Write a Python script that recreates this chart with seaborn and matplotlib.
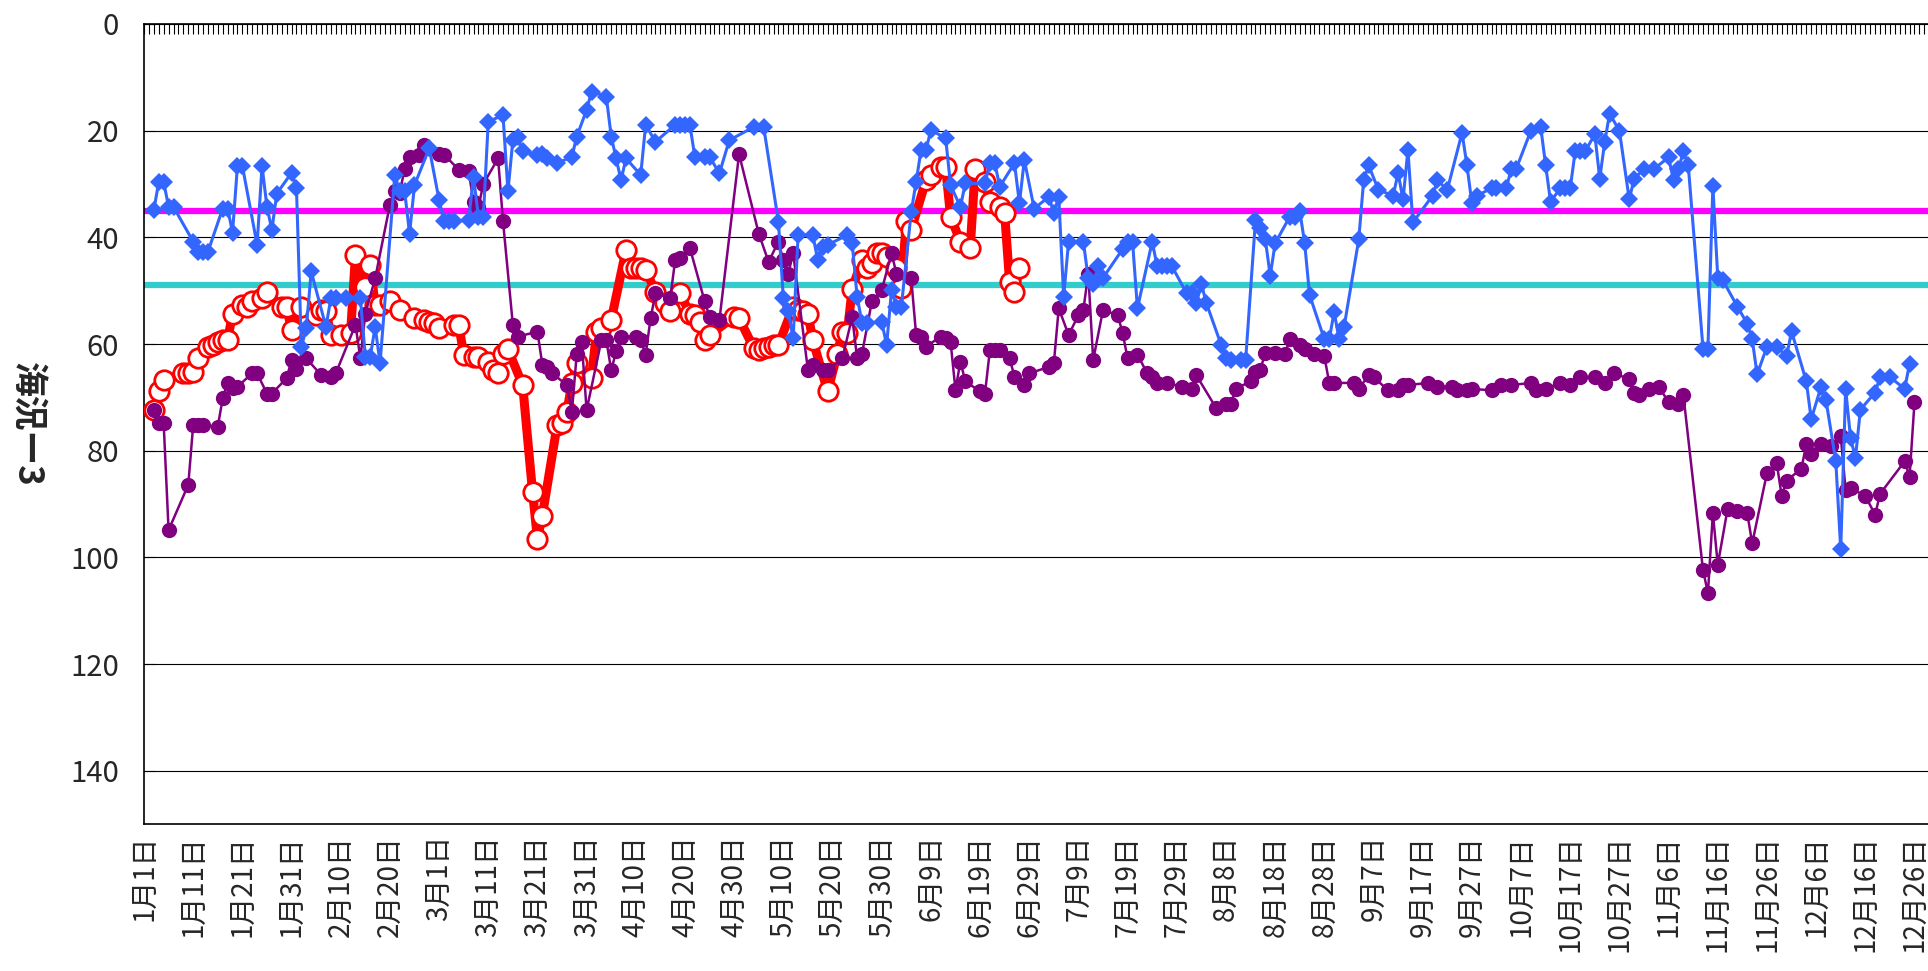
import pandas as pd
import matplotlib
matplotlib.use("Agg")
import matplotlib.pyplot as plt
import seaborn as sns

# ── Data (day of year, 0 = 1月1日, leap year) ───────────────
blue_day = [2, 3, 4, 5, 6, 10, 11, 12, 13, 16, 17, 18, 19, 20, 23, 24, 25, 26, 27, 30,
            31, 32, 33, 34, 37, 38, 39, 41, 44, 45, 46, 47, 48, 51, 52, 53, 54, 55, 58, 60,
            61, 62, 63, 66, 67, 68, 69, 70, 73, 74, 75, 76, 77, 80, 81, 82, 84, 87, 88, 90,
            91, 94, 95, 96, 97, 98, 101, 102, 104, 108, 109, 110, 111, 112, 114, 115, 117, 119, 124, 126,
            129, 130, 131, 132, 133, 136, 137, 138, 139, 143, 144, 145, 146, 147, 150, 151, 152, 153, 154, 156,
            157, 158, 159, 160, 163, 164, 166, 167, 171, 172, 173, 174, 177, 178, 179, 181, 184, 185, 186, 187,
            188, 191, 192, 193, 194, 195, 199, 200, 201, 202, 205, 206, 207, 208, 209, 212, 213, 214, 215, 216,
            219, 220, 221, 223, 224, 226, 227, 228, 229, 230, 233, 234, 235, 236, 237, 240, 241, 242, 243, 244,
            247, 248, 249, 251, 254, 255, 256, 257, 258, 262, 263, 265, 268, 269, 270, 271, 274, 275, 277, 278,
            279, 282, 284, 285, 286, 288, 289, 290, 291, 292, 293, 295, 296, 297, 298, 300, 302, 303, 305, 307,
            310, 311, 312, 313, 314, 317, 318, 319, 320, 321, 324, 326, 327, 328, 330, 332, 334, 335, 338, 339,
            341, 342, 344, 345, 346, 347, 348, 349, 352, 353, 355, 358, 359]
blue_val = [34.9, 29.6, 29.6, 34.3, 34.3, 40.8, 42.7, 42.7, 42.7, 34.6, 34.6, 39.1, 26.6, 26.6, 41.4, 26.6, 34.3, 38.6, 31.8, 27.9,
            30.7, 60.6, 57.0, 46.4, 56.8, 51.4, 51.4, 51.4, 51.4, 62.4, 62.4, 56.8, 63.6, 28.3, 31.4, 31.4, 39.3, 30.2, 23.3, 33.0,
            37.0, 37.0, 37.0, 36.8, 28.6, 36.1, 36.1, 18.3, 17.1, 31.4, 21.8, 21.1, 23.9, 24.6, 24.3, 25.2, 26.1, 24.9, 21.1, 16.1,
            12.7, 13.6, 21.1, 25.2, 29.3, 25.2, 28.3, 18.9, 22.1, 18.9, 18.9, 18.9, 18.9, 24.9, 24.9, 24.9, 28.0, 21.8, 19.3, 19.3,
            37.1, 51.4, 53.9, 58.9, 39.6, 39.6, 44.3, 41.8, 41.4, 39.6, 41.1, 51.1, 56.1, 56.1, 55.8, 60.2, 49.9, 53.0, 53.0, 35.2,
            29.6, 23.6, 23.6, 19.9, 21.4, 30.2, 34.3, 29.9, 29.9, 26.1, 26.1, 30.5, 26.1, 33.6, 25.5, 34.6, 32.4, 35.5, 32.4, 51.1,
            40.8, 40.8, 47.7, 48.7, 45.4, 47.6, 42.2, 40.8, 40.8, 53.3, 40.8, 45.4, 45.4, 45.4, 45.4, 50.5, 50.5, 52.3, 48.7, 52.3,
            60.1, 62.7, 63.0, 63.0, 63.0, 36.8, 38.3, 40.4, 47.2, 41.1, 36.1, 36.1, 35.0, 41.1, 50.8, 59.1, 59.1, 54.0, 59.1, 56.9,
            40.4, 29.3, 26.5, 31.1, 32.2, 27.9, 32.9, 23.6, 37.2, 32.2, 29.3, 31.1, 20.4, 26.5, 33.6, 32.2, 30.8, 30.8, 30.8, 27.2,
            27.2, 20.0, 19.3, 26.5, 33.3, 30.8, 30.8, 30.8, 23.9, 23.9, 23.9, 20.7, 29.0, 22.2, 16.8, 20.0, 32.9, 29.0, 27.2, 27.2,
            25.0, 29.3, 27.2, 23.9, 26.5, 60.9, 60.9, 30.4, 47.6, 48.0, 53.0, 56.2, 59.1, 65.7, 60.5, 60.5, 62.3, 57.6, 67.0, 74.1,
            68.0, 70.5, 82.0, 98.5, 68.4, 77.7, 81.3, 72.3, 69.1, 66.2, 66.2, 68.4, 63.7]

purple_day = [2, 3, 4, 5, 9, 10, 11, 12, 15, 16, 17, 18, 19, 22, 23, 25, 26, 29, 30, 31,
              33, 36, 38, 39, 43, 44, 45, 47, 50, 51, 52, 53, 54, 56, 57, 60, 61, 64, 66, 67,
              68, 69, 72, 73, 75, 76, 80, 81, 82, 83, 86, 87, 88, 89, 90, 93, 94, 95, 96, 97,
              100, 101, 102, 103, 104, 107, 108, 109, 111, 114, 115, 117, 121, 125, 127, 129, 130, 131, 132, 135,
              136, 138, 139, 142, 144, 145, 146, 148, 150, 152, 153, 156, 157, 158, 159, 162, 163, 164, 165, 166,
              167, 170, 171, 172, 173, 174, 176, 177, 179, 180, 184, 185, 186, 188, 190, 191, 192, 193, 195, 198,
              199, 200, 202, 204, 205, 206, 208, 211, 213, 214, 218, 220, 221, 222, 225, 226, 227, 228, 230, 232,
              233, 235, 236, 238, 240, 241, 242, 246, 247, 249, 250, 253, 255, 256, 257, 261, 263, 266, 267, 269,
              270, 274, 276, 278, 282, 283, 285, 288, 290, 292, 295, 297, 299, 302, 303, 304, 306, 308, 310, 312,
              313, 317, 318, 319, 320, 322, 324, 326, 327, 330, 332, 333, 334, 337, 338, 339, 341, 343, 345, 346,
              347, 350, 352, 353, 358, 359, 360]
purple_val = [72.4, 74.9, 74.9, 94.9, 86.4, 75.2, 75.2, 75.2, 75.5, 70.2, 67.3, 68.3, 68.0, 65.5, 65.5, 69.3, 69.3, 66.4, 63.0, 64.6,
              62.7, 65.8, 66.1, 65.5, 56.4, 62.7, 54.3, 47.7, 33.9, 31.4, 31.7, 27.1, 25.0, 24.6, 22.7, 24.3, 24.5, 27.3, 27.6, 33.3,
              34.3, 30.0, 25.2, 37.0, 56.4, 58.6, 57.7, 63.9, 64.3, 65.5, 67.7, 72.7, 61.8, 59.6, 72.4, 59.3, 59.3, 64.9, 61.4, 58.6,
              58.6, 59.3, 62.0, 55.2, 50.5, 51.4, 44.3, 43.9, 42.0, 52.0, 54.9, 55.5, 24.4, 39.3, 44.6, 40.8, 44.3, 46.8, 43.0, 64.9,
              63.9, 64.9, 64.9, 62.7, 54.9, 62.7, 61.8, 52.0, 49.9, 43.0, 46.8, 47.7, 58.3, 58.6, 60.5, 58.6, 58.9, 59.6, 68.6, 63.3,
              67.0, 68.9, 69.3, 61.1, 61.1, 61.1, 62.7, 66.1, 67.7, 65.5, 64.3, 63.6, 53.3, 58.3, 54.6, 53.6, 46.8, 63.0, 53.6, 54.6,
              58.0, 62.7, 62.0, 65.5, 66.2, 67.3, 67.3, 68.0, 68.4, 65.9, 72.0, 71.3, 71.3, 68.4, 67.0, 65.2, 64.8, 61.6, 61.6, 61.9,
              59.1, 60.1, 60.9, 61.9, 62.3, 67.3, 67.3, 67.3, 68.4, 65.9, 66.2, 68.7, 68.7, 67.7, 67.7, 67.3, 68.0, 68.0, 68.7, 68.7,
              68.4, 68.7, 67.7, 67.7, 67.3, 68.7, 68.4, 67.3, 67.7, 66.2, 66.2, 67.3, 65.5, 66.6, 69.1, 69.5, 68.4, 68.0, 70.9, 71.3,
              69.5, 102.4, 106.7, 91.7, 101.4, 90.9, 91.3, 91.7, 97.4, 84.2, 82.4, 88.5, 85.6, 83.4, 78.8, 80.6, 78.8, 79.1, 77.3, 87.4,
              87.0, 88.5, 92.0, 88.1, 82.0, 84.9, 70.9]

red_day = [2, 3, 4, 8, 9, 10, 11, 13, 14, 15, 16, 17, 18, 20, 21, 22, 24, 25, 28, 29,
           30, 32, 35, 36, 37, 38, 40, 42, 43, 45, 46, 47, 48, 50, 52, 55, 57, 58, 59, 60,
           63, 64, 65, 67, 68, 70, 71, 72, 73, 74, 77, 79, 80, 81, 84, 85, 86, 87, 88, 91,
           92, 93, 95, 98, 99, 100, 101, 102, 104, 106, 107, 109, 111, 112, 113, 114, 115, 120, 121, 124,
           125, 126, 127, 128, 129, 132, 133, 134, 135, 136, 139, 141, 142, 143, 144, 146, 147, 148, 149, 150,
           151, 153, 154, 155, 156, 159, 160, 162, 163, 164, 166, 168, 169, 171, 172, 174, 175, 176, 177, 178]
red_val = [72.4, 68.9, 66.8, 65.5, 65.5, 65.2, 62.7, 60.5, 60.2, 59.6, 59.3, 59.3, 54.3, 52.7, 53.0, 52.0, 51.4, 50.2, 53.0, 53.0,
           57.4, 53.0, 54.6, 53.6, 53.9, 58.3, 58.3, 58.0, 43.3, 49.3, 45.2, 52.7, 52.7, 52.0, 53.6, 55.2, 55.5, 55.8, 56.1, 57.0,
           56.4, 56.4, 62.0, 62.4, 62.4, 63.3, 64.9, 65.5, 61.8, 61.0, 67.7, 87.7, 96.5, 92.2, 75.2, 74.9, 72.7, 67.3, 63.6, 66.4,
           57.7, 57.0, 55.5, 42.4, 45.8, 45.8, 45.8, 46.1, 50.2, 52.4, 53.9, 50.5, 54.3, 54.6, 55.8, 59.3, 58.3, 54.9, 55.2, 60.8,
           61.1, 60.8, 60.5, 60.2, 60.2, 53.0, 53.6, 53.9, 54.3, 59.3, 68.9, 61.8, 57.7, 58.0, 49.6, 44.3, 45.8, 44.9, 43.0, 43.0,
           43.6, 45.8, 49.5, 37.0, 38.6, 29.3, 28.3, 26.8, 26.8, 36.1, 40.8, 42.0, 27.1, 29.6, 33.3, 34.3, 35.5, 48.3, 50.2, 45.8]

upper_level = 35
lower_level = 49
year_start = "2024-01-01"
n_days = 366

# ── Style ────────────────────────────────────────────────
sns.set_theme(style="white")
plt.rcParams["font.family"] = ["Noto Sans CJK JP", "DejaVu Sans"]

fig = plt.figure(figsize=(19.28, 9.71), dpi=100)
ax = fig.add_axes([144 / 1928, 1 - 824 / 971, 1800 / 1928, 800 / 971])

# reference lines
ax.axhline(upper_level, color="#FF00FF", linewidth=4.5, zorder=1)
ax.axhline(lower_level, color="#33CCCC", linewidth=4.5, zorder=1)

# series: red (bottom), purple, blue (top)
sns.lineplot(x=red_day, y=red_val, ax=ax, sort=False, color="#FF0000", linewidth=6.5,
             marker="o", markersize=14, markerfacecolor="white",
             markeredgecolor="#FF0000", markeredgewidth=2, zorder=3)
sns.lineplot(x=purple_day, y=purple_val, ax=ax, sort=False, color="#800080", linewidth=1.8,
             marker="o", markersize=11, markeredgecolor="#800080", markeredgewidth=0, zorder=4)
sns.lineplot(x=blue_day, y=blue_val, ax=ax, sort=False, color="#3366FF", linewidth=2.2,
             marker="D", markersize=9.5, markeredgecolor="#3366FF", markeredgewidth=0, zorder=5)

# ── Axes ─────────────────────────────────────────────────
ax.set_ylim(150, 0)
ax.set_yticks(range(0, 141, 20))
ax.yaxis.grid(True, color="black", linewidth=0.8)
ax.set_axisbelow(True)
ax.tick_params(axis="y", direction="in", length=8, width=0.8, color="black",
               pad=18, labelsize=21, left=True)

dates = pd.date_range(year_start, periods=n_days, freq="D")
ax.set_xlim(0, n_days)
ax.set_xticks(range(0, n_days, 10))
ax.set_xticklabels([f"{d.month}月{d.day}日" for d in dates[::10]],
                   rotation=90, fontsize=20, va="top", ha="center")
ax.set_xticks(range(n_days), minor=True)
ax.tick_params(axis="x", which="both", direction="in", length=7, width=0.8,
               color="black", top=True, bottom=False, labeltop=False,
               labelbottom=True, pad=8)

for side in ["left", "top", "bottom"]:
    ax.spines[side].set_color("black")
    ax.spines[side].set_linewidth(1.2)
ax.spines["right"].set_visible(False)

ax.set_xlabel("")
ax.set_ylabel("海況ー3", rotation=270, fontsize=25, fontweight="bold",
              labelpad=44, va="bottom")

fig.savefig("out.png", dpi=100)
plt.close(fig)
